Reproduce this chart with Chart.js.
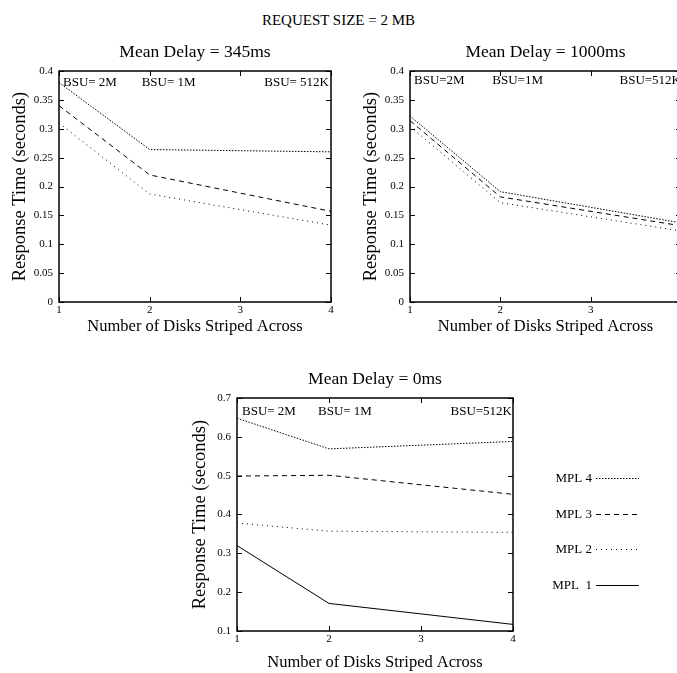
<!DOCTYPE html>
<html>
<head>
<meta charset="utf-8">
<script src="https://cdn.jsdelivr.net/npm/chart.js@4.4.1/dist/chart.umd.min.js"></script>
<style>
    html, body { margin: 0; padding: 0; background: #fff; overflow: hidden; }
    body { width: 677px; height: 673px; position: relative; font-family: 'Liberation Serif', serif; }
    #page-title { position: absolute; left: 0; top: 11px; width: 677px; text-align: center; font-size: 15px; line-height: 18px; color: #000; }
    .panel { position: absolute; overflow: hidden; }
    canvas { display: block; }
</style>
</head>
<body>
<div id="page-title">REQUEST SIZE = 2 MB</div>
<div class="panel" style="left:0;top:40px;width:345px;height:300px"><canvas id="delay-345" width="345" height="300"></canvas></div>
<div class="panel" style="left:345px;top:40px;width:332px;height:300px"><canvas id="delay-1000" width="345" height="300"></canvas></div>
<div class="panel" style="left:180px;top:340px;width:497px;height:333px"><canvas id="delay-0" width="497" height="333"></canvas></div>

<script>
// number of disks striped across (x values of every series)
const disks = [1, 2, 4];
const xTicks = [1, 2, 3, 4];
const yTicksTop = [0, 0.05, 0.1, 0.15, 0.2, 0.25, 0.3, 0.35, 0.4];
const yTicksBottom = [0.1, 0.2, 0.3, 0.4, 0.5, 0.6, 0.7];

const mplLabels = ['MPL 4', 'MPL 3', 'MPL 2', 'MPL  1'];

// mean delay = 345ms
const delay345Mpl4 = [0.38, 0.264, 0.26];
const delay345Mpl3 = [0.34, 0.22, 0.157];
const delay345Mpl2 = [0.31, 0.187, 0.133];
const bsu345 = ['BSU= 2M', 'BSU= 1M', 'BSU= 512K'];

// mean delay = 1000ms
const delay1000Mpl4 = [0.322, 0.191, 0.137];
const delay1000Mpl3 = [0.314, 0.182, 0.132];
const delay1000Mpl2 = [0.304, 0.172, 0.123];
const bsu1000 = ['BSU=2M', 'BSU=1M', 'BSU=512K'];

// mean delay = 0ms
const delay0Mpl4 = [0.648, 0.569, 0.588];
const delay0Mpl3 = [0.499, 0.501, 0.452];
const delay0Mpl2 = [0.378, 0.357, 0.354];
const delay0Mpl1 = [0.32, 0.171, 0.117];
const bsu0 = ['BSU= 2M', 'BSU= 1M', 'BSU=512K'];

const FONT = "'Liberation Serif', 'Times New Roman', serif";
Chart.defaults.font.family = FONT;
Chart.defaults.color = '#000';

// dash styles per MPL level (4, 3, 2, 1)
const dashStyles = [[1.5, 1.5], [5, 4], [1, 4], []];

function formatTick(value) {
    return String(Number(value.toFixed(2)));
}

// gnuplot style box with inward ticks on all four sides
const frameTicks = {
    id: 'frameTicks',
    afterDatasetsDraw(chart) {
        const { ctx, chartArea: a, scales: { x, y } } = chart;
        const len = 5;
        ctx.save();
        ctx.strokeStyle = '#000';
        ctx.lineWidth = 1;
        ctx.setLineDash([]);
        ctx.beginPath();
        for (const t of x.ticks) {
            const px = Math.round(x.getPixelForValue(t.value)) + 0.5;
            ctx.moveTo(px, a.bottom);
            ctx.lineTo(px, a.bottom - len);
            ctx.moveTo(px, a.top);
            ctx.lineTo(px, a.top + len);
        }
        for (const t of y.ticks) {
            const py = Math.round(y.getPixelForValue(t.value)) + 0.5;
            ctx.moveTo(a.left, py);
            ctx.lineTo(a.left + len, py);
            ctx.moveTo(a.right, py);
            ctx.lineTo(a.right - len, py);
        }
        ctx.stroke();
        ctx.lineWidth = 1.5;
        ctx.strokeRect(a.left, a.top, a.right - a.left, a.bottom - a.top);
        ctx.restore();
    },
};

// block striping unit notes along the top of each plot
const bsuLabels = {
    id: 'bsuLabels',
    afterDraw(chart, args, opts) {
        if (!opts.labels) return;
        const { ctx, chartArea: a, scales: { x } } = chart;
        const y = a.top + opts.dy;
        ctx.save();
        ctx.font = '13px ' + FONT;
        ctx.fillStyle = '#000';
        ctx.textBaseline = 'middle';
        ctx.textAlign = 'left';
        ctx.fillText(opts.labels[0], a.left + opts.leftPad, y);
        ctx.fillText(opts.labels[1], x.getPixelForValue(2) + opts.midOffset, y);
        ctx.textAlign = 'right';
        ctx.fillText(opts.labels[2], a.right - opts.rightPad, y);
        ctx.restore();
    },
};

// legend with the text on the left of the line sample
const mplLegend = {
    id: 'mplLegend',
    afterDraw(chart, args, opts) {
        if (!opts.display) return;
        const { ctx, chartArea: a } = chart;
        ctx.save();
        ctx.font = '13px ' + FONT;
        ctx.fillStyle = '#000';
        ctx.textAlign = 'right';
        ctx.textBaseline = 'middle';
        chart.data.datasets.forEach((ds, row) => {
            const y = Math.round(a.top + opts.top + row * opts.spacing) + 0.5;
            const x = a.right + opts.textRight;
            ctx.fillText(ds.label, x, y);
            ctx.setLineDash(ds.borderDash);
            ctx.lineWidth = ds.borderWidth;
            ctx.strokeStyle = ds.borderColor;
            ctx.beginPath();
            ctx.moveTo(x + 4, y);
            ctx.lineTo(x + 4 + opts.sampleLength, y);
            ctx.stroke();
        });
        ctx.restore();
    },
};

function buildPanel(canvasId, cfg) {
    const datasets = cfg.series.map((values, i) => ({
        label: mplLabels[i],
        data: disks.map((d, j) => ({ x: d, y: values[j] })),
        borderColor: '#000',
        borderWidth: 1,
        borderDash: dashStyles[i],
        pointRadius: 0,
        fill: false,
        tension: 0,
    }));

    return new Chart(document.getElementById(canvasId), {
        type: 'line',
        data: { datasets },
        options: {
            responsive: false,
            animation: false,
            devicePixelRatio: 1,
            layout: { padding: { top: cfg.padTop, right: cfg.padRight, left: 0, bottom: 0 } },
            plugins: {
                legend: { display: false },
                tooltip: { enabled: false },
                title: {
                    display: true,
                    text: cfg.title,
                    fullSize: false,
                    color: '#000',
                    font: { size: 17.5, weight: 'normal', family: FONT },
                    padding: { top: 2, bottom: 8 },
                },
                bsuLabels: {
                    labels: cfg.bsu,
                    dy: cfg.bsuDy,
                    leftPad: cfg.bsuLeft,
                    midOffset: cfg.bsuMid,
                    rightPad: cfg.bsuRight,
                },
                mplLegend: {
                    display: !!cfg.legend,
                    top: 80,
                    spacing: 35.7,
                    textRight: 79,
                    sampleLength: 43,
                },
            },
            scales: {
                x: {
                    type: 'linear',
                    min: 1,
                    max: 4,
                    afterBuildTicks: (s) => { s.ticks = xTicks.map((v) => ({ value: v })); },
                    afterFit: (s) => { s.height = cfg.xHeight; },
                    grid: { display: false, drawTicks: false },
                    border: { display: false },
                    ticks: { color: '#000', font: { size: 11 }, padding: 2, maxRotation: 0, callback: formatTick },
                    title: {
                        display: true,
                        text: 'Number of Disks Striped Across',
                        color: '#000',
                        font: { size: 16.5 },
                        padding: { top: 0, bottom: cfg.xTitlePad },
                    },
                },
                y: {
                    type: 'linear',
                    min: cfg.yTicks[0],
                    max: cfg.yTicks[cfg.yTicks.length - 1],
                    afterBuildTicks: (s) => { s.ticks = cfg.yTicks.map((v) => ({ value: v })); },
                    afterFit: (s) => { s.width = cfg.yWidth; },
                    grid: { display: false, drawTicks: false },
                    border: { display: false },
                    ticks: { color: '#000', font: { size: 11 }, padding: 6, callback: formatTick },
                    title: {
                        display: true,
                        text: 'Response Time (seconds)',
                        color: '#000',
                        font: { size: 18.5 },
                        padding: { top: cfg.yTitlePad, bottom: 0 },
                    },
                },
            },
        },
        plugins: [frameTicks, bsuLabels, mplLegend],
    });
}

buildPanel('delay-345', {
    title: 'Mean Delay = 345ms',
    series: [delay345Mpl4, delay345Mpl3, delay345Mpl2],
    yTicks: yTicksTop,
    bsu: bsu345,
    bsuDy: 12, bsuLeft: 4, bsuMid: -8, bsuRight: 2,
    padTop: 0, padRight: 14,
    xHeight: 38, yWidth: 59,
    xTitlePad: 3, yTitlePad: 9,
});

buildPanel('delay-1000', {
    title: 'Mean Delay = 1000ms',
    series: [delay1000Mpl4, delay1000Mpl3, delay1000Mpl2],
    yTicks: yTicksTop,
    bsu: bsu1000,
    bsuDy: 10, bsuLeft: 4, bsuMid: -8, bsuRight: 0,
    padTop: 0, padRight: 9,
    xHeight: 38, yWidth: 65,
    xTitlePad: 3, yTitlePad: 15.5,
});

buildPanel('delay-0', {
    title: 'Mean Delay = 0ms',
    series: [delay0Mpl4, delay0Mpl3, delay0Mpl2, delay0Mpl1],
    yTicks: yTicksBottom,
    bsu: bsu0,
    bsuDy: 14, bsuLeft: 5, bsuMid: -11, bsuRight: 1,
    padTop: 27, padRight: 164,
    xHeight: 42, yWidth: 57,
    xTitlePad: 0, yTitlePad: 9,
    legend: true,
});
</script>
</body>
</html>
